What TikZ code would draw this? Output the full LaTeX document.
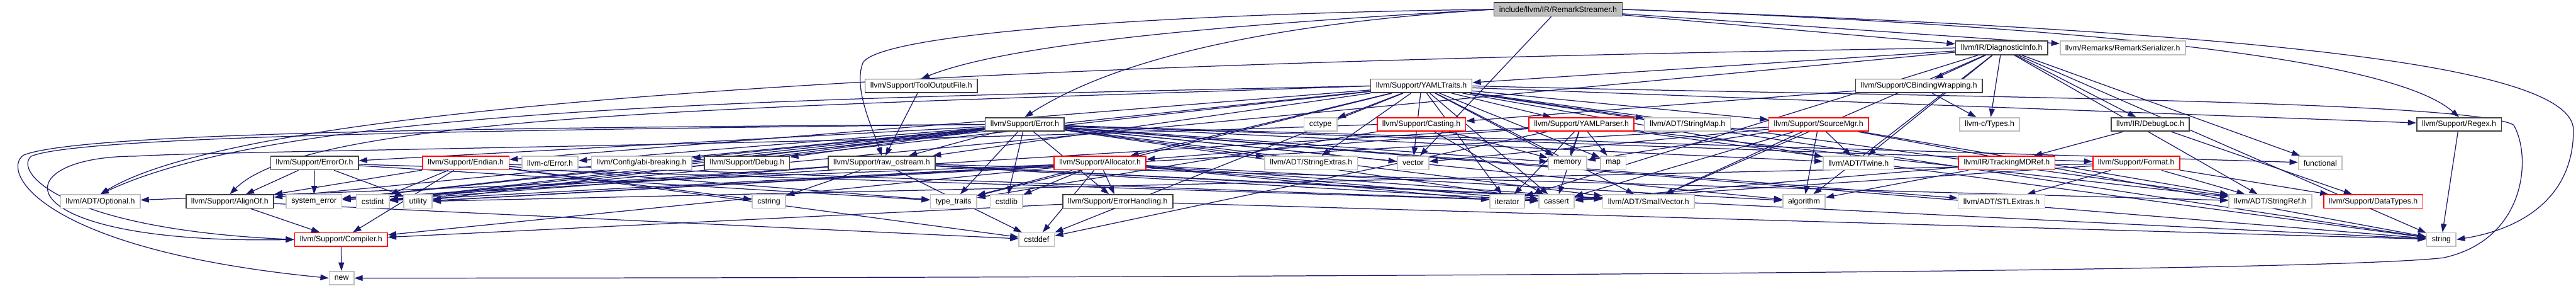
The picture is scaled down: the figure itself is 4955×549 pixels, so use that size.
\documentclass[tikz,border=0pt]{standalone}
\usepackage{fontspec}
\setmainfont{Liberation Sans}
\usetikzlibrary{arrows.meta,backgrounds}
\definecolor{edgeblue}{RGB}{25,25,112}
\definecolor{boxgray}{RGB}{191,191,191}
\definecolor{boxred}{RGB}{255,0,0}

\tikzset{
  hbox/.style={draw, fill=white, line width=0.04cm, inner xsep=0.2cm, inner ysep=0pt,
    minimum height=0.52cm, font=\fontsize{8.5}{10}\selectfont},
  blackbox/.style={hbox, draw=black!75},
  graybox/.style={hbox, draw=boxgray},
  redbox/.style={hbox, draw=boxred},
  rootbox/.style={hbox, draw=black!75, fill=boxgray},
  dep/.style={draw=edgeblue, line width=0.03cm, -{Triangle[length=0.32cm,width=0.22cm]}}
}

\begin{document}
\begin{tikzpicture}[x=0.02cm,y=-0.02cm]
\useasboundingbox (0,0) rectangle (4955,549);

% row 0 and 1
\node[rootbox]  (rs)    at (2997,18) {include/llvm/IR/RemarkStreamer.h};
\node[blackbox] (di)    at (3850,92) {llvm/IR/DiagnosticInfo.h};
\node[graybox]  (rser)  at (4083,92) {llvm/Remarks/RemarkSerializer.h};
% row 2
\node[blackbox] (tof)   at (1772,165) {llvm/Support/ToolOutputFile.h};
\node[blackbox] (yt)    at (2734,165) {llvm/Support/YAMLTraits.h};
\node[blackbox] (cbw)   at (3691,165) {llvm/Support/CBindingWrapping.h};
% row 3
\node[blackbox] (err)   at (1971,239) {llvm/Support/Error.h};
\node[graybox]  (cctype) at (2540,239) {cctype};
\node[redbox]   (cast)  at (2734,239) {llvm/Support/Casting.h};
\node[redbox]   (yp)    at (3042,239) {llvm/Support/YAMLParser.h};
\node[graybox]  (smap)  at (3246,239) {llvm/ADT/StringMap.h};
\node[redbox]   (sm)    at (3498,239) {llvm/Support/SourceMgr.h};
\node[graybox]  (ctypes) at (3827,239) {llvm-c/Types.h};
\node[blackbox] (dl)    at (4136,239) {llvm/IR/DebugLoc.h};
\node[blackbox] (regex) at (4730,239) {llvm/Support/Regex.h};
% row 4
\node[blackbox] (erroror) at (605,313) {llvm/Support/ErrorOr.h};
\node[redbox]   (endian) at (896,313) {llvm/Support/Endian.h};
\node[graybox]  (cerr)  at (1058,313) {llvm-c/Error.h};
\node[graybox]  (abi)   at (1234,313) {llvm/Config/abi-breaking.h};
\node[blackbox] (debug) at (1437,313) {llvm/Support/Debug.h};
\node[blackbox] (ros)   at (1696,313) {llvm/Support/raw\_ostream.h};
\node[redbox]   (alloc) at (2116,313) {llvm/Support/Allocator.h};
\node[graybox]  (sext)  at (2522,313) {llvm/ADT/StringExtras.h};
\node[graybox]  (vector) at (2718,313) {vector};
\node[graybox]  (memory) at (3015,313) {memory};
\node[graybox]  (map)   at (3103,313) {map};
\node[graybox]  (twine) at (3575,313) {llvm/ADT/Twine.h};
\node[redbox]   (tmd)   at (3860,313) {llvm/IR/TrackingMDRef.h};
\node[redbox]   (format) at (4109,313) {llvm/Support/Format.h};
\node[graybox]  (functional) at (4463,313) {functional};
% row 5
\node[graybox]  (optional) at (193,387) {llvm/ADT/Optional.h};
\node[blackbox] (alignof) at (442,387) {llvm/Support/AlignOf.h};
\node[graybox]  (syserr) at (604,387) {system\_error};
\node[graybox]  (cstdint) at (717,387) {cstdint};
\node[graybox]  (utility) at (804,387) {utility};
\node[graybox]  (cstring) at (1479,387) {cstring};
\node[graybox]  (typetraits) at (1834,387) {type\_traits};
\node[graybox]  (cstdlib) at (1936,387) {cstdlib};
\node[blackbox] (eh)    at (2150,387) {llvm/Support/ErrorHandling.h};
\node[graybox]  (iterator) at (2899,387) {iterator};
\node[graybox]  (cassert) at (2994,387) {cassert};
\node[graybox]  (svec)  at (3171,387) {llvm/ADT/SmallVector.h};
\node[graybox]  (algorithm) at (3470,387) {algorithm};
\node[graybox]  (stlext) at (3850,387) {llvm/ADT/STLExtras.h};
\node[graybox]  (sref)  at (4367,387) {llvm/ADT/StringRef.h};
\node[redbox]   (dtypes) at (4565,387) {llvm/Support/DataTypes.h};
% row 6 and 7
\node[redbox]   (compiler) at (656,460) {llvm/Support/Compiler.h};
\node[graybox]  (cstddef) at (1994,460) {cstddef};
\node[graybox]  (string) at (4696,460) {string};
\node[graybox]  (new)   at (657,534) {new};

\begin{scope}[on background layer]
% straight dependencies
\foreach \s/\t in {rs/di, rs/rser, rs/vector, regex/string, tof/ros, compiler/new}
  \draw[dep] (\s) -- (\t);
\foreach \t in {ctypes, svec, sref, twine, dl, cbw, yt, algorithm, cstdint,
    functional, iterator, string}
  \draw[dep] (di) -- (\t);
\foreach \t in {cerr, stlext, svec, sext, twine, abi, alignof, debug, eh, erroror,
    format, ros, algorithm, cassert, cstdint, cstdlib, functional, memory, string,
    syserr, typetraits, utility, vector}
  \draw[dep] (err) -- (\t);
\foreach \t in {svec, sref, cassert, cstddef, cstdint, cstring, string, syserr}
  \draw[dep] (ros) -- (\t);
\foreach \t in {svec, sext, smap, sref, twine, alloc, endian, regex, sm, yp, ros,
    cassert, cctype, cstddef, cstdint, iterator, map, memory, string, syserr,
    typetraits, vector}
  \draw[dep] (yt) -- (\t);
\foreach \t in {sref, alloc, cassert, cstddef, iterator, map, memory, string, syserr}
  \draw[dep] (yp) -- (\t);
\foreach \t in {svec, sref, twine, algorithm, cassert, memory, string, utility, vector}
  \draw[dep] (sm) -- (\t);
\foreach \t in {optional, svec, compiler, eh, algorithm, cassert, cstddef, cstdint,
    cstdlib, iterator, typetraits, utility}
  \draw[dep] (alloc) -- (\t);
\foreach \s/\t in {cast/cassert, cast/memory, cast/typetraits,
    endian/alignof, endian/compiler, endian/cassert, endian/cstddef, endian/cstdint,
    endian/cstring, endian/typetraits,
    erroror/alignof, erroror/cassert, erroror/syserr, erroror/typetraits, erroror/utility,
    alignof/compiler, alignof/cstddef, eh/compiler, eh/string, cbw/ctypes, cbw/cast,
    dl/tmd, dl/dtypes, tmd/algorithm, tmd/cassert,
    format/stlext, format/sref, format/dtypes, format/cassert, format/utility}
  \draw[dep] (\s) -- (\t);

% curved dependencies
\draw[dep] (rs.west) .. controls (2300,25) and (1700,60) .. (1660,120)
  .. controls (1640,170) and (1680,250) .. (ros.north);
\draw[dep] (rs.west) .. controls (2450,45) and (2150,110) .. (err.north);
\draw[dep] (rs.west) .. controls (2400,45) and (1950,80) .. (tof.north);
\draw[dep] (rs.east) .. controls (4000,50) and (4600,110) .. (regex.north);
\draw[dep] (rs.east) .. controls (4300,60) and (4950,120) .. (4950,250)
  .. controls (4950,380) and (4850,440) .. (string.east);
\draw[dep] (yt.east) .. controls (3600,185) and (4750,190) .. (4835,240)
  .. controls (4870,300) and (4860,460) .. (4700,495)
  .. controls (4400,530) and (1500,534) .. (new.east);
\draw[dep] (di.west) .. controls (2000,120) and (500,185) .. (optional.north);
\draw[dep] (yt.west) .. controls (1500,190) and (550,205) .. (optional.north);
\draw[dep] (yt.west) .. controls (1500,205) and (600,215) .. (alignof.north);
\draw[dep] (err.west) .. controls (900,245) and (150,255) .. (45,298)
  .. controls (0,330) and (80,480) .. (new.west);
\draw[dep] (err.west) .. controls (900,250) and (150,262) .. (60,300)
  .. controls (25,330) and (120,440) .. (compiler.west);
\draw[dep] (cast.west) .. controls (1500,280) and (400,290) .. (260,300)
  .. controls (0,300) and (0,470) .. (compiler.west);
\end{scope}
\end{tikzpicture}
\end{document}
